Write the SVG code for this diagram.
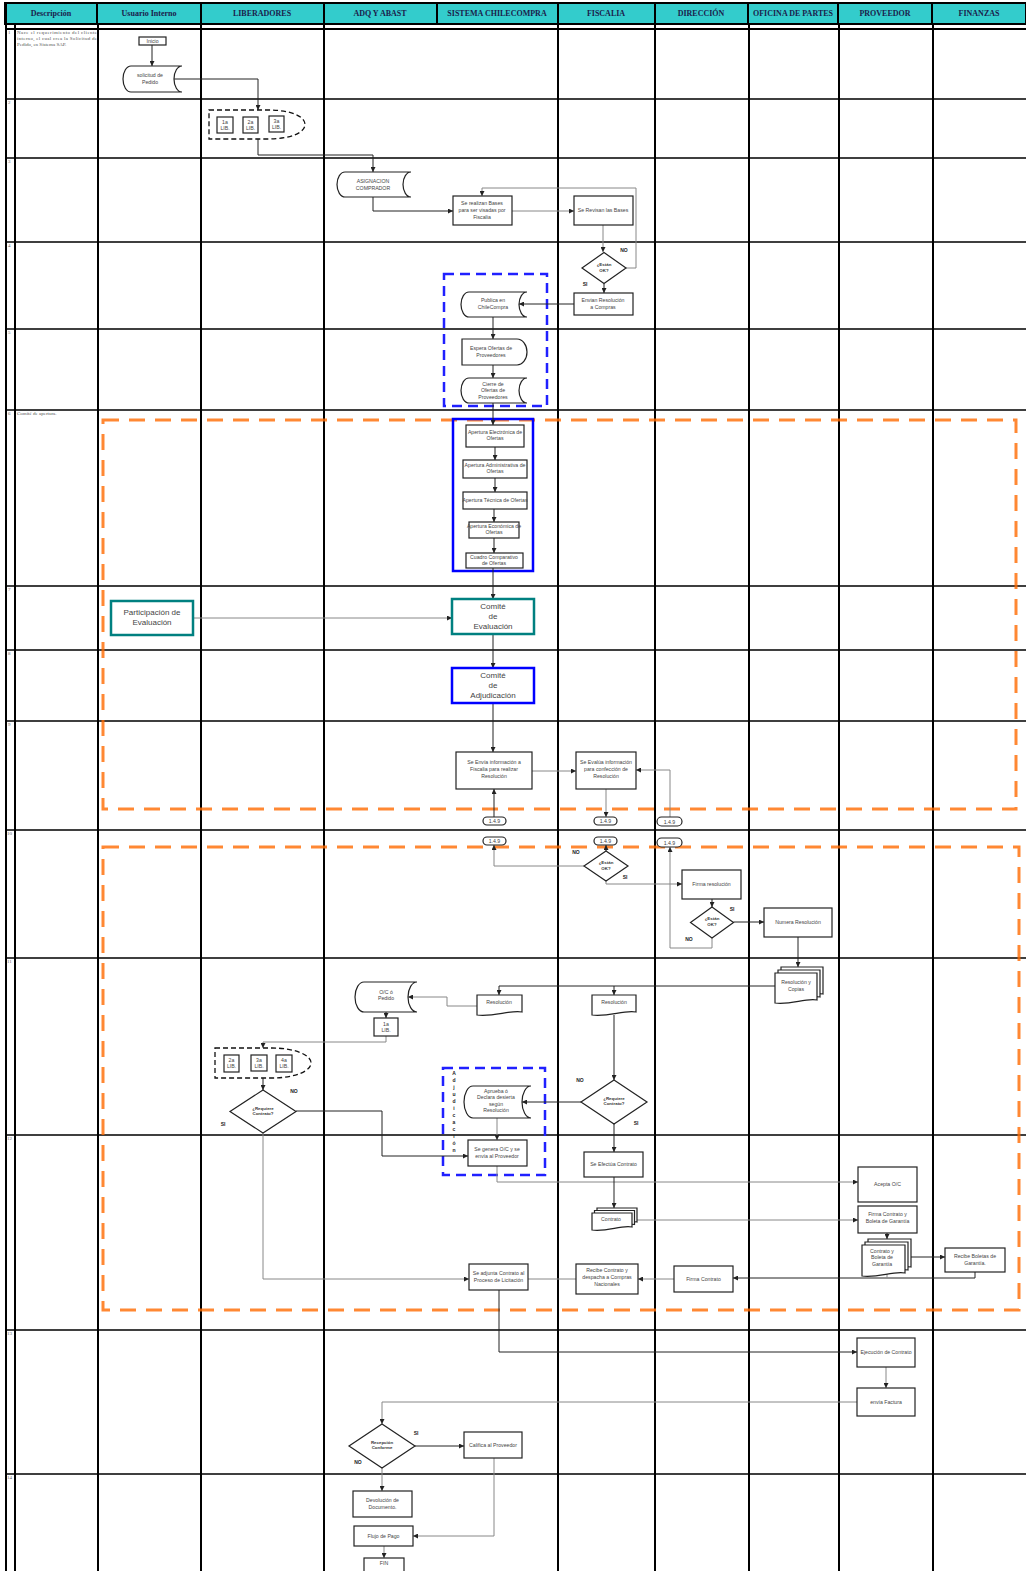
<svg xmlns="http://www.w3.org/2000/svg" width="1026" height="1571" viewBox="0 0 1026 1571">
<style>
.hdr{fill:#33CCCC;stroke:#000;stroke-width:2}
.ht{font-family:"Liberation Serif","Times New Roman",serif;font-weight:bold;font-size:8px;fill:#1b1b4b;text-anchor:middle}
.lane{stroke:#000;stroke-width:2;fill:none}
.row{stroke:#000;stroke-width:1.5;fill:none}
.b{fill:#fff;stroke:#222;stroke-width:1.2}
.t{font-family:"Liberation Sans",Arial,sans-serif;font-size:5.2px;fill:#444;text-anchor:middle}
.tb{font-family:"Liberation Sans",Arial,sans-serif;font-size:4.4px;font-weight:bold;fill:#333;text-anchor:middle}
.lb{font-family:"Liberation Sans",Arial,sans-serif;font-size:5px;font-weight:bold;fill:#222;text-anchor:middle}
.big{font-family:"Liberation Sans",Arial,sans-serif;font-size:8px;fill:#444;text-anchor:middle}
.num{font-family:"Liberation Serif","Times New Roman",serif;font-size:5px;fill:#666}
.desc{font-family:"Liberation Serif","Times New Roman",serif;font-size:5px;fill:#555}
.c{fill:none;stroke:#888;stroke-width:1;marker-end:url(#ah)}
.ck{fill:none;stroke:#222;stroke-width:1;marker-end:url(#ah)}
.cn{fill:none;stroke:#888;stroke-width:1}
.ora{fill:none;stroke:#FF6A00;stroke-opacity:0.8;stroke-width:3;stroke-dasharray:16 10}
.blu{fill:none;stroke:#2020FF;stroke-width:2.5;stroke-dasharray:10 6}
.dsh{fill:#fff;stroke:#111;stroke-width:1.3;stroke-dasharray:5 3}
.teal{fill:#fff;stroke:#008080;stroke-width:2.5}
.blus{fill:#fff;stroke:#0000FF;stroke-width:2.5}
.pill{fill:#fff;stroke:#222;stroke-width:1.2}
</style>
<defs>
<marker id="ah" markerUnits="userSpaceOnUse" markerWidth="5" markerHeight="5" refX="5" refY="2.5" orient="auto"><path d="M0,0 L5,2.5 L0,5 Z" fill="#222"/></marker>
</defs>
<rect x="0" y="0" width="1026" height="1571" fill="#fff"/>

<g id="header">
<rect class="hdr" x="5" y="3" width="1021" height="21"/>
<path class="lane" d="M97,3V24M201,3V24M324,3V24M437,3V24M558,3V24M655,3V24M748,3V24M838,3V24M932,3V24"/>
<text class="ht" x="51" y="16">Descripción</text>
<text class="ht" x="149" y="16">Usuario Interno</text>
<text class="ht" x="262" y="16">LIBERADORES</text>
<text class="ht" x="380" y="16">ADQ Y ABAST</text>
<text class="ht" x="497" y="16">SISTEMA CHILECOMPRA</text>
<text class="ht" x="606" y="16">FISCALIA</text>
<text class="ht" x="701" y="16">DIRECCIÓN</text>
<text class="ht" x="793" y="16">OFICINA DE PARTES</text>
<text class="ht" x="885" y="16">PROVEEDOR</text>
<text class="ht" x="979" y="16">FINANZAS</text>
</g>

<g id="grid">
<path class="lane" d="M6,3V1571" stroke-width="3"/>
<path class="lane" d="M15,24V1571M98,24V1571M201,24V1571M324,24V1571M558,24V1571M655,24V1571M749,24V1571M839,24V1571M933,24V1571"/>
<path class="lane" d="M5,29H1026" stroke-width="3"/>
<path class="row" d="M6,99H1026M6,158H1026M6,242H1026M6,329H1026M6,410H1026M6,586H1026M6,650H1026M6,721H1026M6,830H1026M6,958H1026M6,1135H1026M6,1330H1026M6,1474H1026"/>
<text class="num" x="8" y="34">1</text>
<text class="num" x="8" y="104">2</text>
<text class="num" x="8" y="163">3</text>
<text class="num" x="8" y="247">4</text>
<text class="num" x="8" y="334">5</text>
<text class="num" x="8" y="415">6</text>
<text class="num" x="8" y="591">7</text>
<text class="num" x="8" y="655">8</text>
<text class="num" x="8" y="726">9</text>
<text class="num" x="7" y="835">10</text>
<text class="num" x="7" y="963">11</text>
<text class="num" x="7" y="1140">12</text>
<text class="num" x="7" y="1335">13</text>
<text class="num" x="7" y="1479">14</text>
<text class="desc" x="17" y="34" textLength="80" lengthAdjust="spacing">Nace el requerimiento del cliente</text>
<text class="desc" x="17" y="40" textLength="80" lengthAdjust="spacing">interno, el cual crea la Solicitud de</text>
<text class="desc" x="17" y="46">Pedido, en Sistema SAP.</text>
<text class="desc" x="17" y="415">Comité de apertura.</text>
</g>

<g id="groups">
<rect class="ora" x="103" y="420" width="913" height="389"/>
<rect class="ora" x="103" y="847" width="916" height="463"/>
<rect class="blu" x="444" y="274" width="103" height="132"/>
<rect class="blu" x="443" y="1068" width="102" height="107"/>
<g class="lb" font-size="4.6px">
<text x="454" y="1075">A</text><text x="454" y="1082">d</text><text x="454" y="1089">j</text><text x="454" y="1096">u</text><text x="454" y="1103">d</text><text x="454" y="1110">i</text><text x="454" y="1117">c</text><text x="454" y="1124">a</text><text x="454" y="1131">c</text><text x="454" y="1138">i</text><text x="454" y="1145">ó</text><text x="454" y="1152">n</text>
</g>
<rect x="453" y="419" width="80" height="152" fill="none" stroke="#0000FF" stroke-width="2.5"/>
</g>

<g id="connectors">
<path class="ck" d="M152,45V66"/>
<path class="ck" d="M174,79H258V110"/>
<path class="ck" d="M258,139V155H373V172"/>
<path class="ck" d="M373,197V211H453"/>
<path class="c" d="M512,211H574"/>
<path class="c" d="M603,225V252"/>
<path class="c" d="M626,268H636V188H482V196"/>
<path class="ck" d="M604,283.5V293"/>
<path class="ck" d="M574,304H519"/>
<path class="ck" d="M493,317V339"/>
<path class="ck" d="M493,365V378"/>
<path class="ck" d="M493,403V425"/>
<path class="ck" d="M495,447V460"/>
<path class="ck" d="M495,478V492"/>
<path class="ck" d="M494,509V522"/>
<path class="ck" d="M494,538V553"/>
<path class="ck" d="M493,568V599"/>
<path class="c" d="M193,618H452"/>
<path class="ck" d="M493,634V668"/>
<path class="ck" d="M493,703V752"/>
<path class="c" d="M532,771H576"/>
<path class="ck" d="M494,817V789"/>
<path class="c" d="M606,789V817"/>
<path class="c" d="M670,817V770H636"/>
<path class="c" d="M584,866H494V845"/>
<path class="ck" d="M606,851V845"/>
<path class="c" d="M606,881V884H682"/>
<path class="ck" d="M712,899V907"/>
<path class="ck" d="M733.5,922H764"/>
<path class="c" d="M712,938V948H670V847"/>
<path class="ck" d="M798,937V967"/>
<path class="ck" d="M775,986H499V995"/>
<path class="ck" d="M614,986V995"/>
<path class="c" d="M477,1006H447V997H408"/>
<path class="ck" d="M386,1012V1018"/>
<path class="c" d="M386,1036V1042H263V1048"/>
<path class="ck" d="M263,1078V1090"/>
<path class="ck" d="M296,1111H382V1156H468"/>
<path class="c" d="M263,1133V1279H469"/>
<path class="ck" d="M614,1015V1080"/>
<path class="ck" d="M581,1102H522"/>
<path class="c" d="M497,1118V1140"/>
<path class="ck" d="M614,1124V1152"/>
<path class="c" d="M497,1166V1182H858"/>
<path class="ck" d="M614,1177V1208"/>
<path class="c" d="M637,1220H858" stroke-width="1.6"/>
<path class="ck" d="M887,1233V1239"/>
<path class="ck" d="M911,1257H945"/>
<path class="ck" d="M975,1272V1278H733"/>
<path class="cn" d="M887,1274V1278"/>
<path class="c" d="M674,1279H638"/>
<path class="cn" d="M576,1279H528"/>
<path class="ck" d="M499,1290V1352H857"/>
<path class="c" d="M886,1367V1388"/>
<path class="c" d="M857,1402H382V1424"/>
<path class="ck" d="M415,1446H464"/>
<path class="c" d="M382,1468V1491"/>
<path class="c" d="M494,1458V1536H413"/>
<path class="c" d="M384,1546V1558"/>
</g>

<g id="n-inicio"><rect class="b" x="139" y="37" width="27" height="8"/><text class="t" x="152.5" y="43">Inicio</text></g>
<g id="n-solicitud"><path class="b" d="M131,66H182A8,13 0 0 0 182,92H131A8,13 0 0 1 131,66Z"/><text class="t" x="150" y="77">solicitud de</text><text class="t" x="150" y="84">Pedido</text></g>
<g id="n-liberadores1">
<path class="dsh" d="M209,110H268C290,110 305,116 305,124.5C305,133 290,139 268,139H209Z"/>
<rect class="b" x="217" y="117" width="16" height="16"/><text class="t" x="225" y="124">1a</text><text class="t" x="225" y="130">LIB.</text>
<rect class="b" x="243" y="117" width="15" height="16"/><text class="t" x="250.5" y="124">2a</text><text class="t" x="250.5" y="130">LIB.</text>
<rect class="b" x="269" y="116" width="15" height="16"/><text class="t" x="276.5" y="123">3a</text><text class="t" x="276.5" y="129">LIB.</text>
</g>
<g id="n-asignacion"><path class="b" d="M345,172H411A8,12.5 0 0 0 411,197H345A8,12.5 0 0 1 345,172Z"/><text class="t" x="373" y="183">ASIGNACION</text><text class="t" x="373" y="190">COMPRADOR</text></g>
<g id="n-bases"><rect class="b" x="453" y="196" width="59" height="29"/><text class="t" x="482" y="205">Se realizan Bases</text><text class="t" x="482" y="212">para ser visadas por</text><text class="t" x="482" y="219">Fiscalia</text></g>
<g id="n-revisan"><rect class="b" x="574" y="196" width="59" height="29"/><text class="t" x="603" y="212">Se Revisan las Bases</text></g>
<g id="n-ok1"><path class="b" d="M604,252.5L626,268L604,283.5L582,268Z"/><text class="tb" x="604" y="266">¿Están</text><text class="tb" x="604" y="272">OK?</text></g>
<text class="lb" x="624" y="252">NO</text>
<text class="lb" x="585" y="286">SI</text>
<g id="n-envian"><rect class="b" x="574" y="293" width="59" height="22"/><text class="t" x="603" y="302">Envian Resolución</text><text class="t" x="603" y="309">a Compras</text></g>
<g id="n-publica"><path class="b" d="M469,292H527A8,12.5 0 0 0 527,317H469A8,12.5 0 0 1 469,292Z"/><text class="t" x="493" y="302">Publica en</text><text class="t" x="493" y="309">ChileCompra</text></g>
<g id="n-espera"><path class="b" d="M462,339H517A10,13 0 0 1 517,365H462Z"/><text class="t" x="491" y="350">Espera Ofertas de</text><text class="t" x="491" y="357">Proveedores</text></g>
<g id="n-cierre"><path class="b" d="M469,378H527A8,12.5 0 0 0 527,403H469A8,12.5 0 0 1 469,378Z"/><text class="t" x="493" y="386">Cierre de</text><text class="t" x="493" y="392">Ofertas de</text><text class="t" x="493" y="399">Proveedores</text></g>
<g id="n-apertura1"><rect class="b" x="466" y="425" width="58" height="22"/><text class="t" x="495" y="434" font-size="4.3px">Apertura Electrónica de</text><text class="t" x="495" y="440" font-size="4.3px">Ofertas</text></g>
<g id="n-apertura2"><rect class="b" x="463" y="460" width="64" height="18"/><text class="t" x="495" y="467" font-size="4.3px">Apertura Administrativa de</text><text class="t" x="495" y="473" font-size="4.3px">Ofertas</text></g>
<g id="n-apertura3"><rect class="b" x="463" y="492" width="64" height="17"/><text class="t" x="495" y="502" font-size="4.3px">Apertura Técnica de Ofertas</text></g>
<g id="n-apertura4"><rect class="b" x="469" y="522" width="50" height="16"/><text class="t" x="494" y="528" font-size="4.2px">Apertura Económica de</text><text class="t" x="494" y="534" font-size="4.2px">Ofertas</text></g>
<g id="n-cuadro"><rect class="b" x="466" y="553" width="57" height="15"/><text class="t" x="494" y="559" font-size="4.3px">Cuadro Comparativo</text><text class="t" x="494" y="565" font-size="4.3px">de Ofertas</text></g>
<g id="n-participacion"><rect class="teal" x="111" y="601" width="82" height="34"/><text class="big" x="152" y="615">Participación de</text><text class="big" x="152" y="625">Evaluación</text></g>
<g id="n-comite-eval"><rect class="teal" x="452" y="599" width="82" height="35"/><text class="big" x="493" y="609">Comité</text><text class="big" x="493" y="619">de</text><text class="big" x="493" y="629">Evaluación</text></g>
<g id="n-comite-adj"><rect class="blus" x="452" y="668" width="82" height="35"/><text class="big" x="493" y="678">Comité</text><text class="big" x="493" y="688">de</text><text class="big" x="493" y="698">Adjudicación</text></g>
<g id="n-envia"><rect class="b" x="456" y="752" width="76" height="37"/><text class="t" x="494" y="764">Se Envía información a</text><text class="t" x="494" y="771">Fiscalia para realizar</text><text class="t" x="494" y="778">Resolución</text></g>
<g id="n-evalua"><rect class="b" x="576" y="752" width="60" height="37"/><text class="t" x="606" y="764">Se Evalúa información</text><text class="t" x="606" y="771">para confección de</text><text class="t" x="606" y="778">Resolución</text></g>
<g id="n-pill1"><rect class="pill" x="483" y="817" width="23" height="8" rx="4"/><text class="t" x="494.5" y="823">1.4.9</text></g>
<g id="n-pill2"><rect class="pill" x="594" y="817" width="23" height="8" rx="4"/><text class="t" x="605.5" y="823">1.4.9</text></g>
<g id="n-pill3"><rect class="pill" x="657" y="817" width="25" height="9" rx="4.5"/><text class="t" x="669.5" y="823.5">1.4.9</text></g>
<g id="n-pill4"><rect class="pill" x="483" y="837" width="23" height="8" rx="4"/><text class="t" x="494.5" y="843">1.4.9</text></g>
<g id="n-pill5"><rect class="pill" x="594" y="837" width="23" height="8" rx="4"/><text class="t" x="605.5" y="843">1.4.9</text></g>
<g id="n-pill6"><rect class="pill" x="657" y="838" width="25" height="9" rx="4.5"/><text class="t" x="669.5" y="844.5">1.4.9</text></g>
<g id="n-ok2"><path class="b" d="M606,851L628,866L606,881L584,866Z"/><text class="tb" x="606" y="864">¿Están</text><text class="tb" x="606" y="870">OK?</text></g>
<text class="lb" x="576" y="854">NO</text>
<text class="lb" x="625" y="879">SI</text>
<g id="n-firma"><rect class="b" x="682" y="870" width="59" height="29"/><text class="t" x="711.5" y="886">Firma resolución</text></g>
<g id="n-ok3"><path class="b" d="M712,907L733.5,922.5L712,938L690.5,922.5Z"/><text class="tb" x="712" y="920">¿Están</text><text class="tb" x="712" y="926">OK?</text></g>
<text class="lb" x="732" y="911">SI</text>
<text class="lb" x="689" y="941">NO</text>
<g id="n-numera"><rect class="b" x="764" y="908" width="68" height="29"/><text class="t" x="798" y="924">Numera Resolución</text></g>
<g id="n-rescopias">
<path class="b" d="M781,967H823V994C810.4,992 797.8,999 781,997Z"/>
<path class="b" d="M778,970H820V997C807.4,995 794.8,1002 778,1000Z"/>
<path class="b" d="M775,973H817V1000C804.4,998 791.8,1005 775,1003Z"/>
<text class="t" x="796" y="984">Resolución y</text><text class="t" x="796" y="991">Copias</text></g>
<g id="n-res-adq"><path class="b" d="M477,995H522V1012C508.5,1010 495,1017 477,1015Z"/><text class="t" x="499" y="1004">Resolución</text></g>
<g id="n-res-fis"><path class="b" d="M592,995H636V1012C622.8,1010 609.6,1017 592,1015Z"/><text class="t" x="614" y="1004">Resolución</text></g>
<g id="n-oc"><path class="b" d="M364,982H417A9,15 0 0 0 417,1012H364A9,15 0 0 1 364,982Z"/><text class="t" x="386" y="994">O/C ó</text><text class="t" x="386" y="1000">Pedido</text></g>
<g id="n-lib1a"><rect class="b" x="374" y="1018" width="24" height="18"/><text class="t" x="386" y="1026">1a</text><text class="t" x="386" y="1032">LIB.</text></g>
<g id="n-liberadores2">
<path class="dsh" d="M215,1048H272C295,1048 311,1055 311,1063C311,1071 295,1078 272,1078H215Z"/>
<rect class="b" x="224" y="1055" width="15" height="17"/><text class="t" x="231.5" y="1062">2a</text><text class="t" x="231.5" y="1068">LIB.</text>
<rect class="b" x="251" y="1055" width="16" height="16"/><text class="t" x="259" y="1062">3a</text><text class="t" x="259" y="1068">LIB.</text>
<rect class="b" x="276" y="1055" width="16" height="17"/><text class="t" x="284" y="1062">4a</text><text class="t" x="284" y="1068">LIB.</text>
</g>
<g id="n-req1"><path class="b" d="M263,1090L296,1111.5L263,1133L230,1111.5Z"/><text class="tb" x="263" y="1110">¿Requiere</text><text class="tb" x="263" y="1115">Contrato?</text></g>
<text class="lb" x="294" y="1093">NO</text>
<text class="lb" x="223" y="1126">SI</text>
<g id="n-aprueba"><path class="b" d="M473,1086H531A9,16 0 0 0 531,1118H473A9,16 0 0 1 473,1086Z"/><text class="t" x="496" y="1093">Aprueba ó</text><text class="t" x="496" y="1099">Declara desierta</text><text class="t" x="496" y="1106">según</text><text class="t" x="496" y="1112">Resolución</text></g>
<g id="n-req2"><path class="b" d="M614,1080L647,1102L614,1124L581,1102Z"/><text class="tb" x="614" y="1100">¿Requiere</text><text class="tb" x="614" y="1105">Contrato?</text></g>
<text class="lb" x="580" y="1082">NO</text>
<text class="lb" x="636" y="1125">SI</text>
<g id="n-genera"><rect class="b" x="468" y="1140" width="59" height="26"/><text class="t" x="497" y="1151">Se genera O/C  y se</text><text class="t" x="497" y="1158">envía al Proveedor</text></g>
<g id="n-efectua"><rect class="b" x="584" y="1152" width="59" height="25"/><text class="t" x="613.5" y="1166">Se Efectúa Contrato</text></g>
<g id="n-contrato">
<path class="b" d="M597,1208H637V1222C625,1220 613,1227 597,1225Z"/>
<path class="b" d="M594.5,1210.5H634.5V1224.5C622.5,1222.5 610.5,1229.5 594.5,1227.5Z"/>
<path class="b" d="M592,1213H632V1227C620,1225 608,1232 592,1230Z"/>
<text class="t" x="611" y="1221">Contrato</text></g>
<g id="n-acepta"><rect class="b" x="858" y="1167" width="59" height="35"/><text class="t" x="887.5" y="1186">Acepta  O/C</text></g>
<g id="n-firma-boleta"><rect class="b" x="858" y="1206" width="59" height="27"/><text class="t" x="887.5" y="1216">Firma Contrato y</text><text class="t" x="887.5" y="1223">Boleta de Garantía</text></g>
<g id="n-contrato-boleta">
<path class="b" d="M868,1239H911V1267C898,1265 885,1272 868,1270Z"/>
<path class="b" d="M865,1242H908V1270C895,1268 882,1275 865,1273Z"/>
<path class="b" d="M862,1245H905V1273C892,1271 879,1278 862,1276Z"/>
<text class="t" x="882" y="1253">Contrato y</text><text class="t" x="882" y="1259">Boleta de</text><text class="t" x="882" y="1266">Garantía</text></g>
<g id="n-recibe-boletas"><rect class="b" x="945" y="1248" width="60" height="24"/><text class="t" x="975" y="1258">Recibe Boletas de</text><text class="t" x="975" y="1265">Garantía.</text></g>
<g id="n-firma-contrato"><rect class="b" x="674" y="1266" width="59" height="26"/><text class="t" x="703.5" y="1281">Firma Contrato</text></g>
<g id="n-recibe-contrato"><rect class="b" x="576" y="1264" width="62" height="30"/><text class="t" x="607" y="1272">Recibe Contrato y</text><text class="t" x="607" y="1279">despacha a  Compras</text><text class="t" x="607" y="1286">Nacionales</text></g>
<g id="n-adjunta"><rect class="b" x="469" y="1264" width="59" height="26"/><text class="t" x="498.5" y="1275">Se adjunta Contrato al</text><text class="t" x="498.5" y="1282">Proceso de Licitación</text></g>
<g id="n-ejecucion"><rect class="b" x="857" y="1338" width="58" height="29"/><text class="t" x="886" y="1354">Ejecución de Contrato</text></g>
<g id="n-factura"><rect class="b" x="857" y="1388" width="58" height="28"/><text class="t" x="886" y="1404">envía Factura</text></g>
<g id="n-recepcion"><path class="b" d="M382,1424L415,1446L382,1468L349,1446Z"/><text class="tb" x="382" y="1444">Recepción</text><text class="tb" x="382" y="1449">Conforme</text></g>
<text class="lb" x="416" y="1435">SI</text>
<text class="lb" x="358" y="1464">NO</text>
<g id="n-califica"><rect class="b" x="464" y="1432" width="58" height="26"/><text class="t" x="493" y="1447">Califica al Proveedor</text></g>
<g id="n-devolucion"><rect class="b" x="353" y="1491" width="59" height="26"/><text class="t" x="382.5" y="1502">Devolución de</text><text class="t" x="382.5" y="1509">Documento.</text></g>
<g id="n-flujo"><rect class="b" x="354" y="1526" width="59" height="20"/><text class="t" x="383.5" y="1538">Flujo de Pago</text></g>
<g id="n-fin"><rect class="b" x="364" y="1558" width="40" height="20"/><text class="t" x="384" y="1565">FIN</text></g>
</svg>
